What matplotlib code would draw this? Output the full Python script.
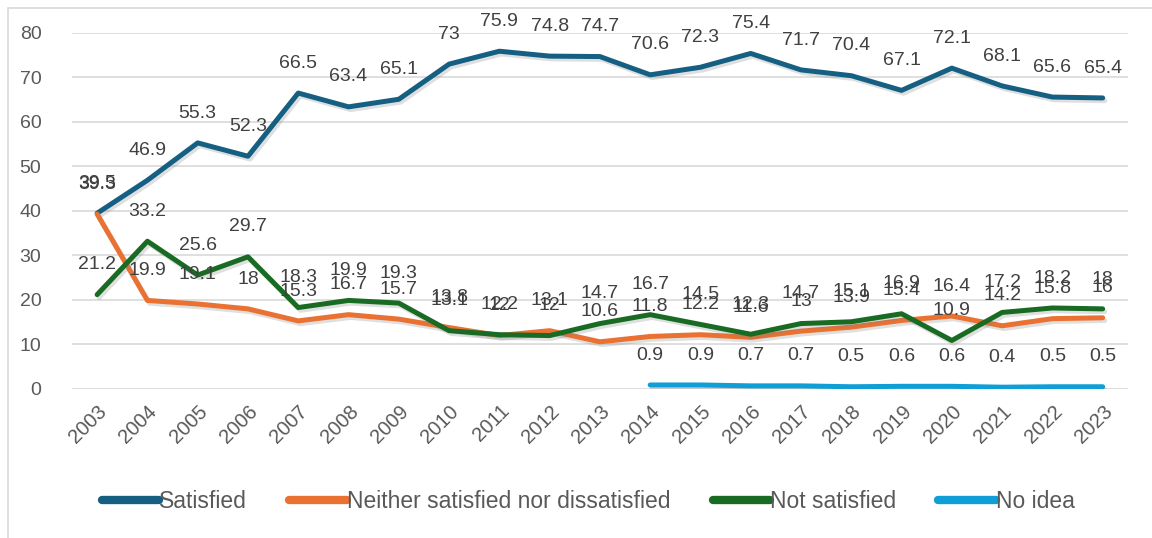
import matplotlib
matplotlib.use("Agg")
import matplotlib.pyplot as plt
import matplotlib.patheffects as pe
from matplotlib.patches import Rectangle

plt.rcParams['font.family'] = ['Liberation Sans', 'DejaVu Sans']

# data
years = [str(y) for y in range(2003, 2024)]
satisfied = [39.5, 46.9, 55.3, 52.3, 66.5, 63.4, 65.1, 73, 75.9, 74.8, 74.7,
             70.6, 72.3, 75.4, 71.7, 70.4, 67.1, 72.1, 68.1, 65.6, 65.4]
neither = [39.3, 19.9, 19.1, 18, 15.3, 16.7, 15.7, 13.8, 12, 13.1, 10.6,
           11.8, 12.2, 11.6, 13, 13.9, 15.4, 16.4, 14.2, 15.8, 16]
not_satisfied = [21.2, 33.2, 25.6, 29.7, 18.3, 19.9, 19.3, 13.1, 12.2, 12, 14.7,
                 16.7, 14.5, 12.3, 14.7, 15.1, 16.9, 10.9, 17.2, 18.2, 18]
no_idea_years = [str(y) for y in range(2014, 2024)]
no_idea = [0.9, 0.9, 0.7, 0.7, 0.5, 0.6, 0.6, 0.4, 0.5, 0.5]

series = [
    ("Satisfied", years, satisfied, "#156082"),
    ("Neither satisfied nor dissatisfied", years, neither, "#E97132"),
    ("Not satisfied", years, not_satisfied, "#196B24"),
    ("No idea", no_idea_years, no_idea, "#0F9ED5"),
]

fig = plt.figure(figsize=(11.52, 5.38), dpi=100)
ax = fig.add_axes([0.0625, 0.277, 0.9165, 0.6617])

# chart area border
fig.patches.append(Rectangle((8 / 1152, -0.1), 1.2, (530 / 538) + 0.1,
                             transform=fig.transFigure, fill=False,
                             edgecolor="#d9d9d9", linewidth=1.2))

xpos = {y: i for i, y in enumerate(years)}
shadow = [pe.SimpleLineShadow(offset=(1.5, -2), alpha=0.25, shadow_color="gray"),
          pe.Normal()]

for name, xs, vals, color in series:
    xi = [xpos[x] for x in xs]
    ax.plot(xi, vals, color=color, linewidth=3.6, label=name,
            solid_joinstyle="round", solid_capstyle="round",
            path_effects=shadow)
    for x, v in zip(xi, vals):
        ax.annotate(f"{v:g}", (x, v), xytext=(0, 21.5), textcoords="offset points",
                    ha="center", va="center", fontsize=14, color="#404040")

ax.set_xlim(-0.5, len(years) - 0.5)
ax.set_ylim(0, 80)
ax.set_yticks(range(0, 81, 10))
ax.set_xticks(range(len(years)))
ax.set_xticklabels(years, rotation=45, ha="right", va="top",
                   rotation_mode="anchor", fontsize=14.5, color="#595959")
ax.tick_params(axis="y", labelsize=14, labelcolor="#595959", length=0, pad=22)
ax.tick_params(axis="x", length=0, pad=9)
for s in ax.spines.values():
    s.set_visible(False)
ax.grid(axis="y", color="#d9d9d9", linewidth=1.2)
ax.set_axisbelow(True)

leg = ax.legend(loc="center", bbox_to_anchor=(0.489, -0.315), ncol=4, frameon=False,
                fontsize=16.5, handlelength=2.5, handletextpad=0.0,
                columnspacing=1.85)
for t in leg.get_texts():
    t.set_color("#595959")
for h in leg.get_lines():
    h.set_linewidth(6)
    h.set_solid_capstyle("round")
    h.set_path_effects([])

fig.savefig("out.png", dpi=100)
